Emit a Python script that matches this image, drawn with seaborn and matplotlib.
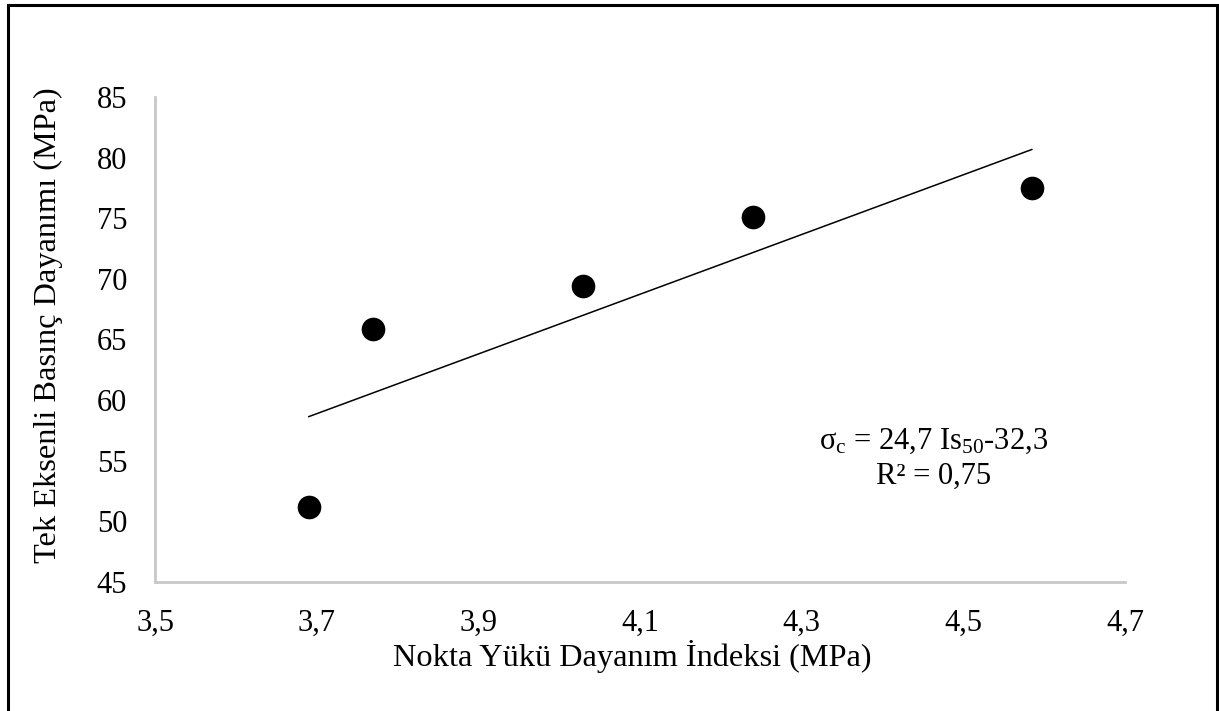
import matplotlib
matplotlib.use("Agg")
import matplotlib.pyplot as plt
import matplotlib.ticker as mticker
from matplotlib.patches import Rectangle
import seaborn as sns
import pandas as pd

# Data
is50 = [3.69, 3.77, 4.03, 4.24, 4.585]          # Nokta Yükü Dayanım İndeksi (MPa)
ucs = [51.2, 65.9, 69.4, 75.1, 77.5]            # Tek Eksenli Basınç Dayanımı (MPa)
x_ticks = [3.5, 3.7, 3.9, 4.1, 4.3, 4.5, 4.7]
y_ticks = [45, 50, 55, 60, 65, 70, 75, 80, 85]
slope, intercept, r2 = 24.7, -32.3, 0.75

df = pd.DataFrame({"x": is50, "y": ucs})

sns.set_theme(style="white")
plt.rcParams["font.family"] = ["Liberation Serif", "DejaVu Serif"]
plt.rcParams["mathtext.fontset"] = "custom"
plt.rcParams["mathtext.rm"] = "Liberation Serif"
plt.rcParams["mathtext.it"] = "Liberation Serif"

W, H = 1219, 711
fig = plt.figure(figsize=(W / 100, H / 100), dpi=100)
ax = fig.add_axes([155 / W, 1 - 582 / H, (1125 - 155) / W, (582 - 97) / H])

sns.scatterplot(data=df, x="x", y="y", ax=ax, s=290, color="black",
                edgecolor="black", linewidth=0, zorder=3, legend=False)
sns.regplot(data=df, x="x", y="y", ax=ax, ci=None, scatter=False, truncate=True,
            line_kws={"color": "black", "linewidth": 1.1})

ax.set_xlim(3.5, 4.7)
ax.set_ylim(45, 85)
ax.set_xticks(x_ticks)
ax.set_yticks(y_ticks)
ax.xaxis.set_major_formatter(mticker.FuncFormatter(lambda v, p: f"{v:.1f}".replace(".", ",")))
ax.yaxis.set_major_formatter(mticker.FuncFormatter(lambda v, p: f"{v:.0f}"))
ax.tick_params(axis="both", length=0, labelsize=22, colors="black")
ax.tick_params(axis="x", pad=19)
ax.tick_params(axis="y", pad=20)

for side in ["top", "right"]:
    ax.spines[side].set_visible(False)
for side in ["left", "bottom"]:
    ax.spines[side].set_color("#c8c8c8")
    ax.spines[side].set_linewidth(2)
ax.grid(False)

ax.set_xlabel("Nokta Yükü Dayanım İndeksi (MPa)", fontsize=23.3, color="black")
ax.set_ylabel("Tek Eksenli Basınç Dayanımı (MPa)", fontsize=23.3, color="black")
ax.xaxis.set_label_coords((632 - 155) / 970, (582 - 640) / 485)
ax.yaxis.set_label_coords((63 - 155) / 970, (582 - 325) / 485)

eq = (r"σ$_{\mathrm{c}}$ = " + f"{slope:.1f}".replace(".", ",") + r" Is$_{\mathrm{50}}$"
      + f"{intercept:.1f}".replace(".", ","))
fig.text(934 / W, 1 - 441 / H, eq, fontsize=22, ha="center", va="center", color="black")
fig.text(934 / W, 1 - 476 / H, "R² = " + f"{r2:.2f}".replace(".", ","), fontsize=22,
         ha="center", va="center", color="black")

fig.patches.append(Rectangle((8 / W, -0.02), (1217 - 8) / W, 1.02 - 5 / H, transform=fig.transFigure,
                             fill=False, edgecolor="black", linewidth=2.2))

fig.savefig("out.png", dpi=100, facecolor="white")
